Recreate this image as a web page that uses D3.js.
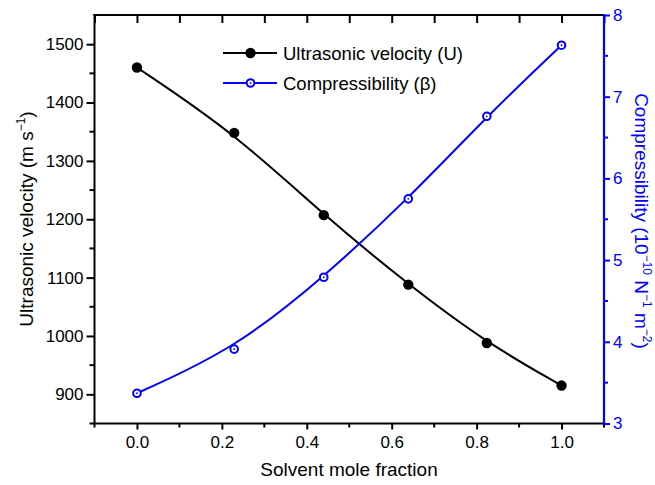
<!DOCTYPE html>
<html>
<head>
<meta charset="utf-8">
<script src="https://cdn.jsdelivr.net/npm/d3@7"></script>
<style>
  body { margin: 0; background: #fff; }
  svg { font-family: "Liberation Sans", Arial, sans-serif; }
</style>
</head>
<body>
<svg class="main" width="655" height="485"></svg>
<script>
  // solvent mole fraction
  const fraction = [0.0, 0.229, 0.44, 0.639, 0.824, 1.0];
  // ultrasonic velocity U, m s^-1
  const velocity = [1460, 1348, 1207, 1088, 988, 915];
  // compressibility beta, 10^-10 N^-1 m^-2
  const compress = [3.37, 3.91, 4.79, 5.75, 6.76, 7.63];

  const xTicks = [0.0, 0.2, 0.4, 0.6, 0.8, 1.0];
  const uTicks = [900, 1000, 1100, 1200, 1300, 1400, 1500];
  const bTicks = [3, 4, 5, 6, 7, 8];

(function () {
  'use strict';

  const blue = "#0000ff";
  const mLeft = 94.5, mRight = 604, mTop = 15, mBottom = 423.5;
  const tickFont = 17;

  const svg = d3.select("svg.main");

  const x = d3.scaleLinear().domain([-0.1, 1.1]).range([mLeft, mRight]);
  const yU = d3.scaleLinear().domain([850, 1550]).range([mBottom, mTop]);
  const yB = d3.scaleLinear().domain([3, 8]).range([mBottom, mTop]);

  const minorX = d3.range(-0.1, 1.11, 0.2).map(d => +d.toFixed(2));

  function styleAxis(g, color) {
    g.attr("font-family", null).attr("font-size", tickFont);
    g.select(".domain").remove();
    g.selectAll("line").attr("stroke", color).attr("stroke-width", 2);
    g.selectAll("text").attr("fill", color);
  }

  // bottom axis, ticks outward
  const gB = svg.append("g").attr("transform", `translate(0,${mBottom})`);
  gB.call(d3.axisBottom(x).tickValues(xTicks).tickFormat(d3.format(".1f")).tickSize(6).tickPadding(6));
  styleAxis(gB, "#000");
  gB.append("g").selectAll("line").data(minorX).join("line")
    .attr("x1", d => x(d)).attr("x2", d => x(d)).attr("y1", 0).attr("y2", 4)
    .attr("stroke", "#000").attr("stroke-width", 2);

  // top axis, ticks inward
  const gT = svg.append("g").attr("transform", `translate(0,${mTop})`);
  gT.call(d3.axisBottom(x).tickValues(xTicks.concat(minorX)).tickFormat("").tickSize(8));
  styleAxis(gT, "#000");

  // left axis
  const gL = svg.append("g").attr("transform", `translate(${mLeft},0)`);
  gL.call(d3.axisLeft(yU).tickValues(uTicks).tickFormat(d3.format("d")).tickSize(8).tickPadding(3));
  styleAxis(gL, "#000");
  gL.append("g").selectAll("line").data(uTicks.map(d => d - 50)).join("line")
    .attr("y1", d => yU(d)).attr("y2", d => yU(d)).attr("x1", 0).attr("x2", -5)
    .attr("stroke", "#000").attr("stroke-width", 2);

  // right axis
  const gR = svg.append("g").attr("transform", `translate(${mRight},0)`);
  gR.call(d3.axisRight(yB).tickValues(bTicks).tickFormat(d3.format("d")).tickSize(6).tickPadding(3));
  styleAxis(gR, blue);
  gR.append("g").selectAll("line").data(bTicks.slice(0, -1).map(d => d + 0.5)).join("line")
    .attr("y1", d => yB(d)).attr("y2", d => yB(d)).attr("x1", 0).attr("x2", 4)
    .attr("stroke", blue).attr("stroke-width", 2);

  // frame lines
  svg.append("line").attr("x1", mLeft - 1).attr("x2", mRight).attr("y1", mTop).attr("y2", mTop)
    .attr("stroke", "#000").attr("stroke-width", 2);
  svg.append("line").attr("x1", mLeft - 1).attr("x2", mRight).attr("y1", mBottom).attr("y2", mBottom)
    .attr("stroke", "#000").attr("stroke-width", 2);
  svg.append("line").attr("x1", mLeft).attr("x2", mLeft).attr("y1", mTop - 1).attr("y2", mBottom + 1)
    .attr("stroke", "#000").attr("stroke-width", 2);
  svg.append("line").attr("x1", mRight).attr("x2", mRight).attr("y1", mTop - 1).attr("y2", mBottom + 1)
    .attr("stroke", blue).attr("stroke-width", 2.2);

  const ptsU = fraction.map((f, i) => [x(f), yU(velocity[i])]);
  const ptsB = fraction.map((f, i) => [x(f), yB(compress[i])]);
  const line = d3.line().curve(d3.curveBasis);

  svg.append("path").attr("d", line(ptsU)).attr("fill", "none")
    .attr("stroke", "#000").attr("stroke-width", 2);
  svg.append("path").attr("d", line(ptsB)).attr("fill", "none")
    .attr("stroke", blue).attr("stroke-width", 2);

  function dot(g, p) {
    g.append("circle").attr("cx", p[0]).attr("cy", p[1]).attr("r", 5.2).attr("fill", "#000");
  }
  function ring(g, p) {
    g.append("circle").attr("cx", p[0]).attr("cy", p[1]).attr("r", 3.8)
      .attr("fill", "#fff").attr("stroke", blue).attr("stroke-width", 2);
    g.append("circle").attr("cx", p[0]).attr("cy", p[1]).attr("r", 0.9).attr("fill", blue);
  }
  const marks = svg.append("g");
  ptsU.forEach(p => dot(marks, p));
  ptsB.forEach(p => ring(marks, p));

  // legend
  const legend = svg.append("g").attr("font-size", 18.5);
  const rows = [
    { label: "Ultrasonic velocity (U)", color: "#000", mark: dot, y: 53 },
    { label: "Compressibility (\u03b2)", color: blue, mark: ring, y: 83 }
  ];
  rows.forEach(r => {
    legend.append("line").attr("x1", 223).attr("x2", 277).attr("y1", r.y).attr("y2", r.y)
      .attr("stroke", r.color).attr("stroke-width", 2);
    r.mark(legend, [250.5, r.y]);
    legend.append("text").attr("x", 283).attr("y", r.y + 6.5).text(r.label);
  });

  // axis titles
  svg.append("text").attr("x", 349).attr("y", 476)
    .attr("text-anchor", "middle").attr("font-size", 19).text("Solvent mole fraction");

  const tl = svg.append("text").attr("transform", "translate(33,219) rotate(-90)")
    .attr("text-anchor", "middle").attr("font-size", 19);
  tl.append("tspan").text("Ultrasonic velocity (m s");
  tl.append("tspan").attr("font-size", 12).attr("dy", -8).text("\u22121");
  tl.append("tspan").attr("dy", 8).text(")");

  const tr = svg.append("text").attr("transform", "translate(635,221) rotate(90)")
    .attr("text-anchor", "middle").attr("font-size", 19).attr("fill", blue);
  tr.append("tspan").text("Compressibility (10");
  tr.append("tspan").attr("font-size", 12).attr("dy", -8).text("\u221210");
  tr.append("tspan").attr("dy", 8).text(" N");
  tr.append("tspan").attr("font-size", 12).attr("dy", -8).text("\u22121");
  tr.append("tspan").attr("dy", 8).text(" m");
  tr.append("tspan").attr("font-size", 12).attr("dy", -8).text("\u22122");
  tr.append("tspan").attr("dy", 8).text(")");
}());
</script>
</body>
</html>
